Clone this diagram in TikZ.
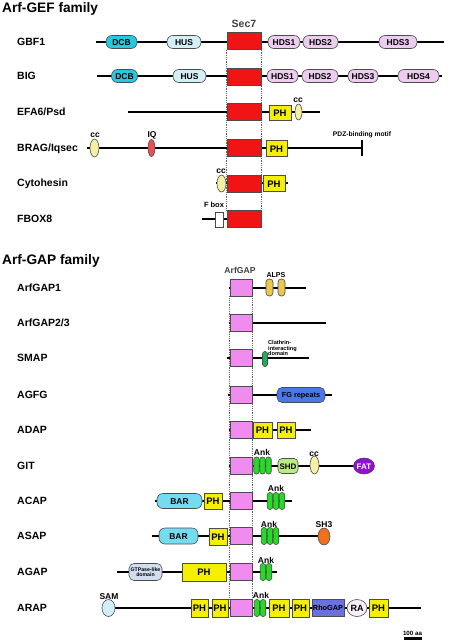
\documentclass[tikz,border=0pt]{standalone}
\usepackage{fontspec}
\setmainfont{Liberation Sans}
\usetikzlibrary{shapes.geometric,backgrounds}

\definecolor{sevenred}{RGB}{240,20,20}
\definecolor{dcbcyan}{RGB}{40,200,225}
\definecolor{huscyan}{RGB}{212,240,246}
\definecolor{hdspink}{RGB}{236,205,240}
\definecolor{phyellow}{RGB}{245,240,0}
\definecolor{ccyellow}{RGB}{246,240,165}
\definecolor{iqred}{RGB}{232,80,85}
\definecolor{gappink}{RGB}{240,140,240}
\definecolor{alpsgold}{RGB}{232,200,80}
\definecolor{clagreen}{RGB}{30,176,90}
\definecolor{fgblue}{RGB}{75,120,232}
\definecolor{ankgreen}{RGB}{35,220,35}
\definecolor{shdgreen}{RGB}{185,236,130}
\definecolor{fatpurple}{RGB}{145,15,215}
\definecolor{barcyan}{RGB}{115,220,240}
\definecolor{shorange}{RGB}{240,112,32}
\definecolor{gtpgrey}{RGB}{210,222,240}
\definecolor{samblue}{RGB}{210,238,248}
\definecolor{rhoblue}{RGB}{106,112,224}
\definecolor{ralav}{RGB}{246,238,248}

\begin{document}
\begin{tikzpicture}[x=1pt, y=-1pt,
    every node/.style={inner sep=0pt, font=\bfseries},
    title/.style={anchor=base west, font=\bfseries\fontsize{13.7}{15}\selectfont},
    rowlabel/.style={anchor=west, text height=7.6pt, text depth=0pt, font=\bfseries\fontsize{10.5}{12}\selectfont},
    tag/.style={text height=6pt, text depth=0pt, font=\bfseries\fontsize{8.5}{9}\selectfont},
    backbone/.style={line width=1.6pt},
    guide/.style={densely dotted, line width=0.8pt, black!60},
    dom/.style={draw=black!70, line width=0.6pt, minimum height=14pt, text height=6pt, text depth=0pt,
        font=\bfseries\fontsize{8.5}{9}\selectfont},
    rdom/.style={dom, rounded corners=6pt},
    oval/.style={dom, ellipse},
    sevenbox/.style={dom, fill=sevenred, minimum width=34pt, minimum height=17pt},
    gapbox/.style={dom, fill=gappink, minimum width=22pt, minimum height=17pt},
    phbox/.style={dom, fill=phyellow, minimum height=16pt, text height=7pt, font=\bfseries\fontsize{9.5}{10}\selectfont},
    ank/.style={dom, fill=ankgreen, minimum width=5.5pt, minimum height=17pt, rounded corners=2.6pt},
    hds/.style={rdom, fill=hdspink, minimum height=13pt}
]
\useasboundingbox (0,0) rectangle (455,640);

% ---------- Arf-GEF family ----------
\node[title] (geftitle) at (2,12) {Arf-GEF family};
\node[tag, text=black!75, font=\bfseries\fontsize{10.5}{11}\selectfont, text height=7.6pt] (sevenlabel) at (244,24) {Sec7};

% GBF1
\node[rowlabel] (gbf1) at (17,42) {GBF1};
\coordinate (gbf1-s) at (96,42);
\coordinate (gbf1-e) at (444,42);
\draw[backbone] (gbf1-s) -- (gbf1-e);
\node[rdom, fill=dcbcyan, minimum width=31pt, minimum height=13pt] (gbf1-dcb) at (121.5,42) {DCB};
\node[rdom, fill=huscyan, minimum width=34pt, minimum height=13pt] (gbf1-hus) at (184,42) {HUS};
\node[sevenbox] (gbf1-sec7) at (244,41) {};
\node[hds, minimum width=32pt] (gbf1-hds1) at (284,42) {HDS1};
\node[hds, minimum width=35pt] (gbf1-hds2) at (320.5,42) {HDS2};
\node[hds, minimum width=38pt] (gbf1-hds3) at (398,42) {HDS3};

% BIG
\node[rowlabel] (big) at (17,76) {BIG};
\coordinate (big-s) at (97,76);
\coordinate (big-e) at (442,76);
\draw[backbone] (big-s) -- (big-e);
\node[rdom, fill=dcbcyan, minimum width=26pt, minimum height=13pt] (big-dcb) at (124.5,76) {DCB};
\node[rdom, fill=huscyan, minimum width=33pt, minimum height=13pt] (big-hus) at (189.5,76) {HUS};
\node[sevenbox] (big-sec7) at (244,76.5) {};
\node[hds, minimum width=31pt] (big-hds1) at (282.5,76) {HDS1};
\node[hds, minimum width=36pt] (big-hds2) at (320,76) {HDS2};
\node[hds, minimum width=30pt] (big-hds3) at (363,76) {HDS3};
\node[hds, minimum width=41pt] (big-hds4) at (418.5,76) {HDS4};

% EFA6/Psd
\node[rowlabel] (efa6) at (17,112) {EFA6/Psd};
\coordinate (efa6-s) at (128,112);
\coordinate (efa6-e) at (320,112);
\draw[backbone] (efa6-s) -- (efa6-e);
\node[sevenbox] (efa6-sec7) at (244,112) {};
\node[phbox, minimum width=22pt, minimum height=15pt] (efa6-ph) at (280,112.5) {PH};
\node[oval, fill=ccyellow, minimum width=7pt, minimum height=16pt] (efa6-cc) at (298.5,112) {};
\node[tag] (efa6-cclabel) at (298,99) {cc};

% BRAG/Iqsec
\node[rowlabel] (brag) at (17,148) {BRAG/Iqsec};
\coordinate (brag-s) at (87,148);
\coordinate (brag-e) at (362,148);
\draw[backbone] (brag-s) -- (brag-e);
\draw[backbone] ([yshift=-8pt]brag-e) -- ([yshift=8pt]brag-e);
\node[oval, fill=ccyellow, minimum width=9pt, minimum height=18pt] (brag-cc) at (94.5,148) {};
\node[tag] (brag-cclabel) at (95,134) {cc};
\node[oval, fill=iqred, minimum width=7pt, minimum height=17pt] (brag-iq) at (151.5,148) {};
\node[tag] (brag-iqlabel) at (152,134) {IQ};
\node[sevenbox] (brag-sec7) at (244,148) {};
\node[phbox, minimum width=21pt] (brag-ph) at (276.5,148.5) {PH};
\node[tag, font=\bfseries\fontsize{6.7}{7}\selectfont, text height=4.8pt] (brag-pdz) at (362,134.5) {PDZ-binding motif};

% Cytohesin
\node[rowlabel] (cyto) at (17,183) {Cytohesin};
\coordinate (cyto-s) at (216,183);
\coordinate (cyto-e) at (288,183);
\draw[backbone] (cyto-s) -- (cyto-e);
\node[sevenbox] (cyto-sec7) at (244,184) {};
\node[oval, fill=ccyellow, minimum width=9pt, minimum height=17pt] (cyto-cc) at (221.5,183.5) {};
\node[tag] (cyto-cclabel) at (221,170) {cc};
\node[phbox, minimum width=22pt] (cyto-ph) at (274,183.5) {PH};

% FBOX8
\node[rowlabel] (fbox8) at (17,219) {FBOX8};
\coordinate (fbox8-s) at (202,219);
\node[sevenbox] (fbox8-sec7) at (244,219) {};
\draw[backbone] (fbox8-s) -- (fbox8-sec7.west);
\node[dom, fill=white, minimum width=8pt, minimum height=15pt] (fbox8-fbox) at (219,219.5) {};
\node[tag, font=\bfseries\fontsize{7.5}{8}\selectfont, text height=5.4pt] (fbox8-fboxlabel) at (214,205) {F box};

\begin{scope}[on background layer]
    \draw[guide] (gbf1-sec7.south west) -- (fbox8-sec7.north west);
    \draw[guide] (gbf1-sec7.south east) -- (fbox8-sec7.north east);
\end{scope}

% ---------- Arf-GAP family ----------
\node[title] (gaptitle) at (2,264) {Arf-GAP family};
\node[tag, text=black!75, font=\bfseries\fontsize{8.6}{9}\selectfont] (gaplabel) at (240,270) {ArfGAP};

% ArfGAP1
\node[rowlabel] (arfgap1) at (17,288) {ArfGAP1};
\coordinate (arfgap1-s) at (229,288);
\coordinate (arfgap1-e) at (306,288);
\draw[backbone] (arfgap1-s) -- (arfgap1-e);
\node[gapbox] (arfgap1-gap) at (241,287.5) {};
\foreach \x [count=\k] in {269.5,281.5}
    \node[dom, fill=alpsgold, minimum width=7pt, minimum height=17pt, rounded corners=3.2pt] (arfgap1-alps\k) at (\x,287.5) {};
\node[tag, font=\bfseries\fontsize{7.1}{8}\selectfont, text height=5.1pt] (arfgap1-alpslabel) at (276,275) {ALPS};

% ArfGAP2/3
\node[rowlabel] (arfgap23) at (17,323) {ArfGAP2/3};
\coordinate (arfgap23-s) at (229,323);
\coordinate (arfgap23-e) at (326,323);
\draw[backbone] (arfgap23-s) -- (arfgap23-e);
\node[gapbox] (arfgap23-gap) at (241,323) {};

% SMAP
\node[rowlabel] (smap) at (17,358) {SMAP};
\coordinate (smap-s) at (227,358);
\coordinate (smap-e) at (309,358);
\draw[backbone] (smap-s) -- (smap-e);
\node[gapbox] (smap-gap) at (241,358) {};
\node[dom, fill=clagreen, minimum width=5pt, minimum height=15pt, rounded corners=2.4pt] (smap-cla) at (265,359) {};
\node[anchor=north west, align=left, font=\bfseries\fontsize{5.6}{5.4}\selectfont] (smap-clalabel) at (268,340.5) {Clathrin-\\interacting\\domain};

% AGFG
\node[rowlabel] (agfg) at (17,395) {AGFG};
\coordinate (agfg-s) at (228,395);
\coordinate (agfg-e) at (332,395);
\draw[backbone] (agfg-s) -- (agfg-e);
\node[gapbox] (agfg-gap) at (241,394.5) {};
\node[dom, fill=fgblue, minimum width=48pt, minimum height=15pt, rounded corners=5pt,
    font=\bfseries\fontsize{7.3}{8}\selectfont, text height=5.3pt] (agfg-fg) at (301,395) {FG repeats};

% ADAP
\node[rowlabel] (adap) at (17,430) {ADAP};
\coordinate (adap-s) at (229,430);
\coordinate (adap-e) at (311,430);
\draw[backbone] (adap-s) -- (adap-e);
\node[gapbox] (adap-gap) at (241,430) {};
\node[phbox, minimum width=19pt] (adap-ph1) at (262.5,430) {PH};
\node[phbox, minimum width=18pt] (adap-ph2) at (286,430) {PH};

% GIT
\node[rowlabel] (git) at (17,466) {GIT};
\coordinate (git-s) at (229,466);
\coordinate (git-e) at (373,466);
\draw[backbone] (git-s) -- (git-e);
\node[gapbox] (git-gap) at (241,466) {};
\foreach \x [count=\k] in {256.5,262.5,268.5}
    \node[ank] (git-ank\k) at (\x,465.5) {};
\node[tag] (git-anklabel) at (262,452) {Ank};
\node[dom, fill=shdgreen, minimum width=20pt, minimum height=15pt, rounded corners=4pt, font=\bfseries\fontsize{8}{9}\selectfont] (git-shd) at (288,466) {SHD};
\node[oval, fill=ccyellow, minimum width=9pt, minimum height=18pt] (git-cc) at (314.5,465) {};
\node[tag] (git-cclabel) at (314,453) {cc};
\node[oval, fill=fatpurple, text=white, minimum width=21pt, minimum height=16pt, font=\bfseries\fontsize{8}{9}\selectfont] (git-fat) at (364,466) {FAT};

% ACAP
\node[rowlabel] (acap) at (17,501) {ACAP};
\coordinate (acap-s) at (155,501);
\coordinate (acap-e) at (292,501);
\draw[backbone] (acap-s) -- (acap-e);
\node[dom, fill=barcyan, minimum width=45pt, minimum height=15pt, rounded corners=6pt] (acap-bar) at (179.5,501) {BAR};
\node[phbox, minimum width=18pt] (acap-ph) at (213,501) {PH};
\node[gapbox] (acap-gap) at (241,501) {};
\foreach \x [count=\k] in {270,276,282}
    \node[ank] (acap-ank\k) at (\x,501) {};
\node[tag] (acap-anklabel) at (276,488.5) {Ank};

% ASAP
\node[rowlabel] (asap) at (17,536) {ASAP};
\coordinate (asap-s) at (152,536);
\coordinate (asap-e) at (330,536);
\draw[backbone] (asap-s) -- (asap-e);
\node[dom, fill=barcyan, minimum width=39pt, minimum height=16pt, rounded corners=6pt] (asap-bar) at (178.5,536) {BAR};
\node[phbox, minimum width=18pt, minimum height=17pt] (asap-ph) at (218,536.5) {PH};
\node[gapbox] (asap-gap) at (241,536) {};
\foreach \x [count=\k] in {264,270,276}
    \node[ank] (asap-ank\k) at (\x,536) {};
\node[tag] (asap-anklabel) at (269,524.5) {Ank};
\node[oval, fill=shorange, minimum width=12pt, minimum height=17pt] (asap-sh3) at (324,536.5) {};
\node[tag] (asap-sh3label) at (324,524) {SH3};

% AGAP
\node[rowlabel] (agap) at (17,572) {AGAP};
\coordinate (agap-s) at (117,572);
\coordinate (agap-e) at (277,572);
\draw[backbone] (agap-s) -- (agap-e);
\node[dom, fill=gtpgrey, minimum width=33pt, minimum height=17pt, rounded corners=5pt, align=center,
    text height=, text depth=, font=\bfseries\fontsize{5.2}{5.4}\selectfont] (agap-gtp) at (145.5,572) {GTPase-like\\domain};
\node[phbox, minimum width=44pt, minimum height=18pt] (agap-ph) at (204,572) {PH};
\node[gapbox] (agap-gap) at (241,572) {};
\foreach \x [count=\k] in {263,269}
    \node[ank] (agap-ank\k) at (\x,572) {};
\node[tag] (agap-anklabel) at (266,560) {Ank};

% ARAP
\node[rowlabel] (arap) at (17,608) {ARAP};
\coordinate (arap-s) at (108,608);
\coordinate (arap-e) at (421,608);
\draw[backbone] (arap-s) -- (arap-e);
\node[oval, fill=samblue, minimum width=13pt, minimum height=17pt] (arap-sam) at (108.5,608) {};
\node[tag] (arap-samlabel) at (109,596) {SAM};
\node[phbox, minimum width=17pt, minimum height=18pt] (arap-ph1) at (199.5,608) {PH};
\node[phbox, minimum width=16pt, minimum height=18pt] (arap-ph2) at (220,608) {PH};
\node[gapbox] (arap-gap) at (241,608) {};
\foreach \x [count=\k] in {257,263}
    \node[ank] (arap-ank\k) at (\x,608) {};
\node[tag] (arap-anklabel) at (261,595.5) {Ank};
\node[phbox, minimum width=20pt, minimum height=18pt] (arap-ph3) at (279,608) {PH};
\node[phbox, minimum width=17pt, minimum height=18pt] (arap-ph4) at (300.5,608) {PH};
\node[dom, fill=rhoblue, minimum width=32pt, minimum height=17pt, font=\bfseries\fontsize{7.3}{8}\selectfont, text height=5.3pt] (arap-rhogap) at (328,608) {RhoGAP};
\node[oval, fill=ralav, minimum width=20pt, minimum height=17pt, font=\bfseries\fontsize{9}{10}\selectfont] (arap-ra) at (357,608) {RA};
\node[phbox, minimum width=19pt, minimum height=18pt] (arap-ph5) at (378.5,608) {PH};

\begin{scope}[on background layer]
    \draw[guide] (arfgap1-gap.south west) -- (arap-gap.north west);
    \draw[guide] (arfgap1-gap.south east) -- (arap-gap.north east);
\end{scope}

% scale bar
\node[tag, font=\bfseries\fontsize{6.2}{7}\selectfont, text height=4.5pt] (scalelabel) at (412.5,633.5) {100 aa};
\coordinate (scale-s) at (404,638.5);
\coordinate (scale-e) at (422,638.5);
\draw[line width=3pt] (scale-s) -- (scale-e);

\end{tikzpicture}
\end{document}
